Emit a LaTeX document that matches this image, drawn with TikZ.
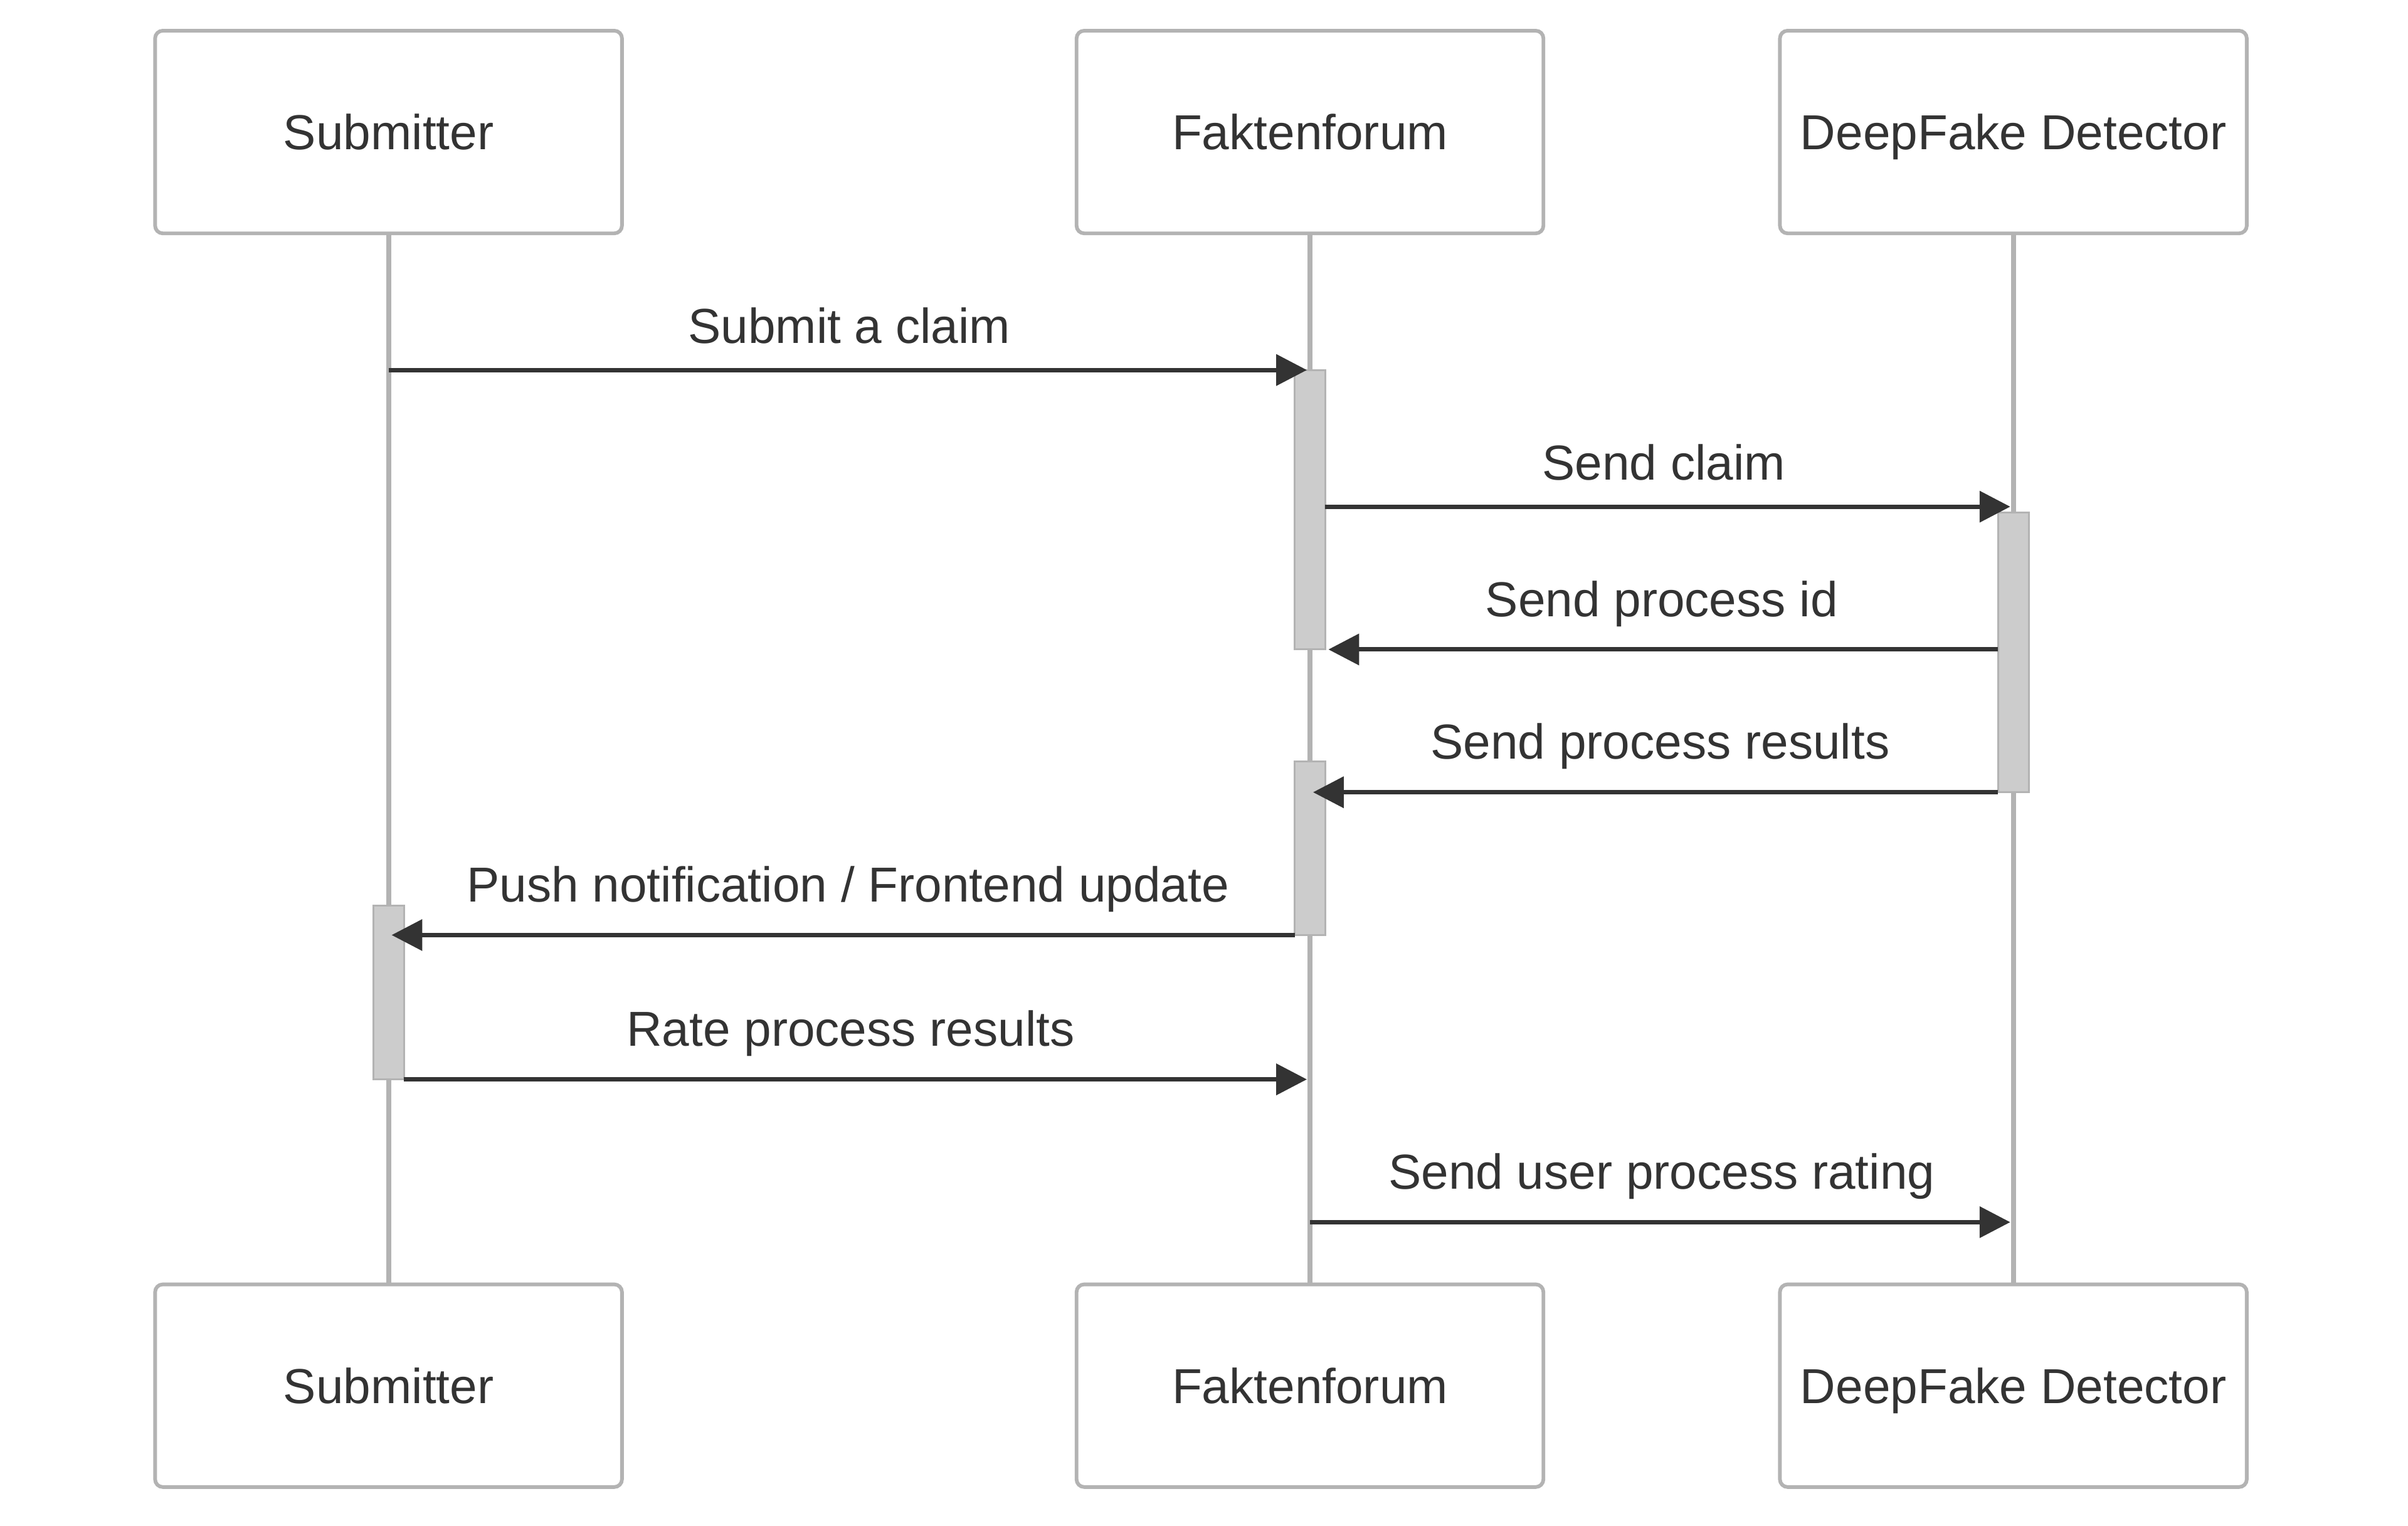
\documentclass[tikz,border=0pt]{standalone}
\usepackage{fontspec}
\setmainfont{Liberation Sans}
\usepackage{xcolor}
\usepackage{tikz}
\usetikzlibrary{arrows.meta,positioning}
\definecolor{linegray}{HTML}{B3B3B3}
\definecolor{actfill}{HTML}{CCCCCC}
\definecolor{darktxt}{HTML}{333333}
\tikzset{actorbox/.style={draw=linegray, fill=white, line width=1.2pt, rectangle, rounded corners=2.5pt,
		minimum width=152pt, minimum height=66pt, inner sep=0pt, outer sep=0pt,
		text height=11.5pt, text depth=0pt, text=darktxt, font=\fontsize{16pt}{19pt}\selectfont},
	actbar/.style={draw=linegray, fill=actfill, line width=0.6pt, rectangle,
		minimum width=10pt, inner sep=0pt, outer sep=0pt},
	lifeline/.style={draw=linegray, line width=1.6pt},
	msgarrow/.style={draw=darktxt, line width=1.45pt, shorten >=1pt, -{Triangle[length=10pt,width=10pt]}},
	msglabel/.style={anchor=base, yshift=8.8pt, inner sep=0pt, text=darktxt, font=\fontsize{16pt}{19pt}\selectfont},
	lowlabel/.style={msglabel, yshift=2pt}}
\begin{document}
\begin{tikzpicture}[x=0.5pt,y=-0.5pt]
		\useasboundingbox (0,0) rectangle (1568,993.5);
		\node [actorbox] (sub) at (253,86) {Submitter};
		\node [actorbox, right of=sub, node distance=300pt] (fak) {Faktenforum};
		\node [actorbox, right of=fak, node distance=229pt] (dfd) {DeepFake Detector};
		
		\node [actorbox, below of=sub, node distance=408.25pt] (subB) {Submitter};
		\node [actorbox, below of=fak, node distance=408.25pt] (fakB) {Faktenforum};
		\node [actorbox, below of=dfd, node distance=408.25pt] (dfdB) {DeepFake Detector};
		
		\draw [lifeline] (sub) -- (subB);
		\draw [lifeline] (fak) -- (fakB);
		\draw [lifeline] (dfd) -- (dfdB);
		
		% activations
		\node [actbar, minimum height=91pt] (fakA1) at (853,332) {};
		\node [actbar, minimum height=91pt] (dfdA) at (1311,425) {};
		\node [actbar, minimum height=56.5pt] (fakA2) at (853,552.5) {};
		\node [actbar, minimum height=56.5pt] (subA) at (253,646.5) {};
		\coordinate (claim) at ([yshift=1pt]fakA1.east);
		\coordinate (rating) at (853,796);
		
		\draw [msgarrow] (sub.south |- fakA1.north) -- node[msglabel]{Submit a claim} (fakA1.north -| fak.south);
		\draw [msgarrow] (claim) -- node[msglabel,pos=0.492]{Send claim} (claim -| dfd.south);
		\draw [msgarrow] (dfdA.west |- fakA1.south) -- node[lowlabel]{Send process id} (fakA1.south east);
		\draw [msgarrow] (dfdA.south west) -- node[lowlabel,pos=0.491]{Send process results} (dfdA.south west -| fak.south);
		\draw [msgarrow] (fakA2.south west) -- node[lowlabel,pos=0.493]{Push notification / Frontend update} (fakA2.south west -| sub.south);
		\draw [msgarrow] (subA.south east) -- node[lowlabel,pos=0.493]{Rate process results} (subA.south east -| fak.south);
		\draw [msgarrow] (rating) -- node[lowlabel]{Send user process rating} (rating -| dfd.south);
	\end{tikzpicture}
\end{document}
